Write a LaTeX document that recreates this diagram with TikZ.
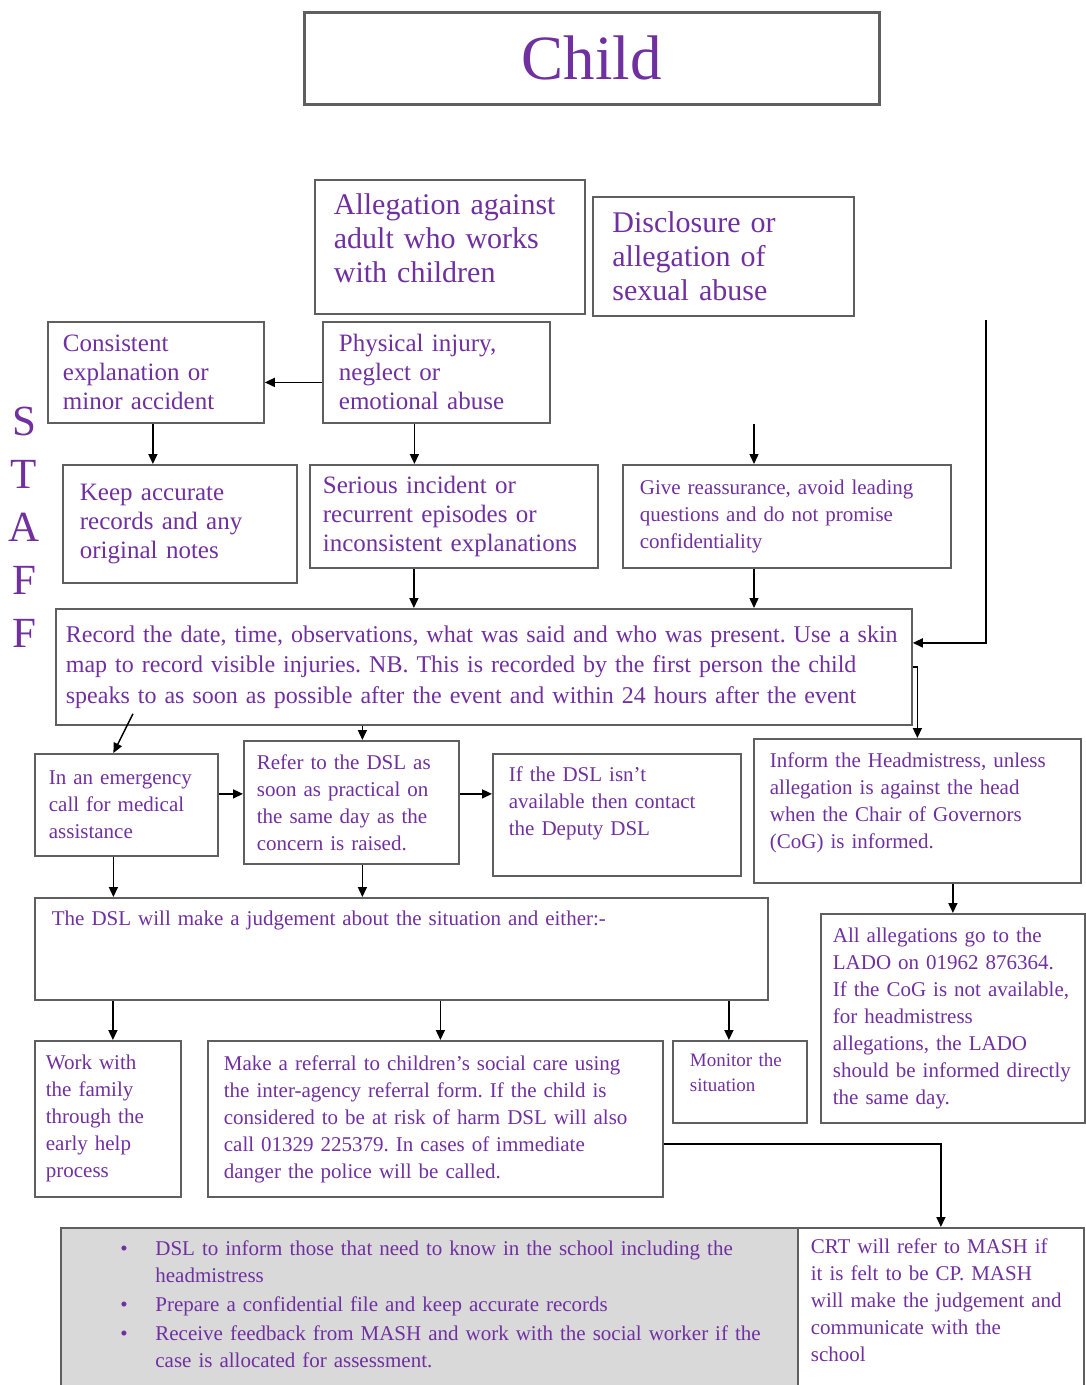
\documentclass[tikz,border=0pt]{standalone}
\usepackage{fontspec}
\setmainfont{Liberation Serif}
\frenchspacing
\usetikzlibrary{arrows.meta, calc}
\definecolor{childpurple}{HTML}{7030A0}
\definecolor{boxgray}{HTML}{5F5F5F}
\definecolor{notegray}{HTML}{D9D9D9}

\begin{document}
\begin{tikzpicture}[
    x=1pt, y=-1pt,
    flowbox/.style={draw=boxgray, line width=1.8pt, inner sep=0pt, anchor=north west, text=childpurple, align=left},
    bigtext/.style={font=\fontsize{30}{34}\selectfont},
    midtext/.style={font=\fontsize{25}{29}\selectfont},
    smalltext/.style={font=\fontsize{21}{27}\selectfont},
    arrow/.style={-{Triangle[length=10pt,width=9pt]}, line width=1.5pt}
  ]
  \useasboundingbox (0,0) rectangle (1085,1385);

  % Title and side label
  \node[flowbox, line width=2.5pt, align=center, font=\fontsize{63}{63}\selectfont, minimum width=575pt, minimum height=92pt] (child) at (303,11) {Child};
  \node[text=childpurple, align=center, font=\fontsize{43}{53}\selectfont] (staff) at (24,527) {S\\T\\A\\F\\F};

  % Starting points
  \node[flowbox, bigtext, minimum width=270pt, minimum height=134pt, text width=232pt] (adult) at (314,179) {Allegation against\\adult who works\\with children\rule[-17pt]{0pt}{17pt}};
  \node[flowbox, bigtext, minimum width=261pt, minimum height=119pt, text width=222pt] (disclosure) at (592,196) {Disclosure or\\allegation of\\sexual abuse};

  % First level
  \node[flowbox, midtext, minimum width=216pt, minimum height=101pt, text width=186pt] (consistent) at (47,321) {Consistent\\explanation or\\minor accident};
  \node[flowbox, midtext, minimum width=227pt, minimum height=101pt, text width=195pt] (physical) at (322,321) {Physical injury,\\neglect or\\emotional abuse};
  \node[flowbox, midtext, minimum width=234pt, minimum height=118pt, text width=200pt] (keep) at (62,464) {Keep accurate\\records and any\\original notes};
  \node[flowbox, midtext, minimum width=288pt, minimum height=103pt, text width=262pt] (serious) at (309,464) {Serious incident or\\recurrent episodes or\\inconsistent explanations};
  \node[flowbox, smalltext, minimum width=328pt, minimum height=103pt, text width=294pt] (reassure) at (622,464) {Give reassurance, avoid leading\\questions and do not promise\\confidentiality};

  % Record
  \node[flowbox, font=\fontsize{24}{30.5}\selectfont, minimum width=856pt, minimum height=116pt, text width=836pt] (record) at (55,608) {Record the date, time, observations, what was said and who was present. Use a skin\\map to record visible injuries. NB. This is recorded by the first person the child\\speaks to as soon as possible after the event and within 24 hours after the event};

  % Second level
  \node[flowbox, smalltext, minimum width=183pt, minimum height=102pt, text width=155pt] (emergency) at (34,753) {In an emergency\\call for medical\\assistance};
  \node[flowbox, smalltext, minimum width=215pt, minimum height=123pt, text width=189pt] (refer) at (243,740) {Refer to the DSL as\\soon as practical on\\the same day as the\\concern is raised.};
  \node[flowbox, smalltext, minimum width=248pt, minimum height=122pt, text width=216pt] (ifdsl) at (492,753) {If the DSL isn’t\\available then contact\\the Deputy DSL\rule[-28pt]{0pt}{28pt}};
  \node[flowbox, smalltext, minimum width=327pt, minimum height=144pt, text width=295pt] (inform) at (753,738) {Inform the Headmistress, unless\\allegation is against the head\\when the Chair of Governors\\(CoG) is informed.\rule[-21pt]{0pt}{21pt}};
  \node[flowbox, smalltext, minimum width=733pt, minimum height=102pt, text width=699pt] (judge) at (34,897) {The DSL will make a judgement about the situation and either:-\rule[-62pt]{0pt}{62pt}};
  \node[flowbox, smalltext, minimum width=264pt, minimum height=209pt, text width=240pt] (alleg) at (820,913) {All allegations go to the\\LADO on 01962 876364.\\If the CoG is not available,\\for headmistress\\allegations, the LADO\\should be informed directly\\the same day.};

  % Outcomes
  \node[flowbox, smalltext, minimum width=146pt, minimum height=156pt, text width=124pt] (work) at (34,1040) {Work with\\the family\\through the\\early help\\process};
  \node[flowbox, smalltext, minimum width=455pt, minimum height=156pt, text width=423pt] (referral) at (207,1040) {Make a referral to children’s social care using\\the inter-agency referral form. If the child is\\considered to be at risk of harm DSL will also\\call 01329 225379. In cases of immediate\\danger the police will be called.};
  \node[flowbox, font=\fontsize{19}{25}\selectfont, minimum width=134pt, minimum height=82pt, text width=100pt] (monitor) at (672,1040) {Monitor the\\situation\rule[-20pt]{0pt}{20pt}};

  % Bottom row
  \node[flowbox, smalltext, fill=notegray, minimum width=737pt, minimum height=168pt, text width=680pt] (actions) at (60,1227) {%
    \hspace*{31pt}\makebox[35pt][l]{\textbullet}DSL to inform those that need to know in the school including the\\
    \hspace*{66pt}headmistress\\[2pt]
    \hspace*{31pt}\makebox[35pt][l]{\textbullet}Prepare a confidential file and keep accurate records\\[2pt]
    \hspace*{31pt}\makebox[35pt][l]{\textbullet}Receive feedback from MASH and work with the social worker if the\\
    \hspace*{66pt}case is allocated for assessment.\rule[-15pt]{0pt}{15pt}};
  \node[flowbox, smalltext, minimum width=286pt, minimum height=168pt, text width=260pt] (crt) at (797,1227) {CRT will refer to MASH if\\it is felt to be CP. MASH\\will make the judgement and\\communicate with the\\school\rule[-24pt]{0pt}{24pt}};

  % Loose line ends
  \coordinate (reassure-in) at (754,424);
  \coordinate (side-in) at (986,320);

  % Arrows
  \draw[arrow] ($(physical.west)+(0,10)$) -- ($(consistent.east)+(0,10)$);
  \draw[arrow] ($(consistent.south)+(-3,0)$) -- ($(consistent.south |- keep.north)+(-3,0)$);
  \draw[arrow] ($(physical.south)+(-22,0)$) -- ($(physical.south |- serious.north)+(-22,0)$);
  \draw[arrow] (reassure-in) -- (reassure-in |- reassure.north);
  \draw[arrow] ($(serious.south)+(-40,0)$) -- ($(serious.south |- record.north)+(-40,0)$);
  \draw[arrow] (reassure-in |- reassure.south) -- (reassure-in |- record.north);
  \draw[arrow] (side-in) |- ($(record.east)+(0,-24)$);
  \draw[arrow] (record.east) -| (inform.north);
  \draw[arrow] ($(record.south west)+(78,-12)$) -- ($(emergency.north)+(-13,0)$);
  \draw[arrow] ($(refer.north |- record.south)+(11,0)$) -- ($(refer.north)+(11,0)$);
  \draw[arrow] ($(emergency.east)+(0,-11)$) -- ($(emergency.east -| refer.west)+(0,-11)$);
  \draw[arrow] ($(refer.east)+(0,-8.5)$) -- ($(refer.east -| ifdsl.west)+(0,-8.5)$);
  \draw[arrow] ($(emergency.south)+(-13,0)$) -- ($(emergency.south |- judge.north)+(-13,0)$);
  \draw[arrow] ($(refer.south)+(11,0)$) -- ($(refer.south |- judge.north)+(11,0)$);
  \draw[arrow] (alleg.north |- inform.south) -- (alleg.north);
  \draw[arrow] ($(work.north |- judge.south)+(5,0)$) -- ($(work.north)+(5,0)$);
  \draw[arrow] ($(referral.north |- judge.south)+(5,0)$) -- ($(referral.north)+(5,0)$);
  \draw[arrow] ($(monitor.north |- judge.south)+(-11,0)$) -- ($(monitor.north)+(-11,0)$);
  \draw[arrow] ($(referral.east)+(0,25)$) -| (crt.north);
\end{tikzpicture}
\end{document}
